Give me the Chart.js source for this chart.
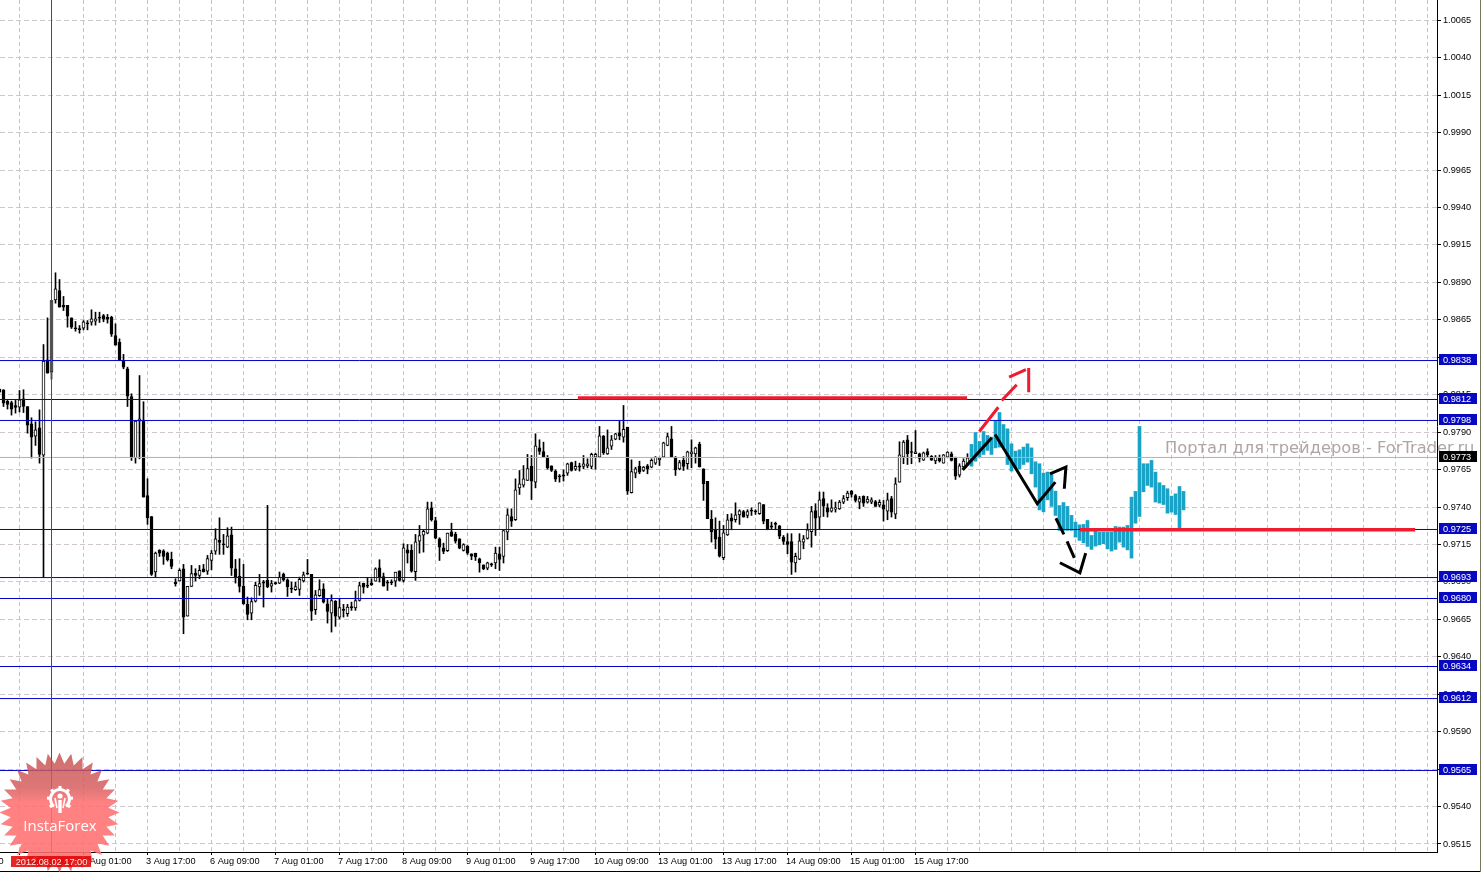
<!DOCTYPE html>
<html><head><meta charset="utf-8">
<style>html,body{margin:0;padding:0;background:#fff}canvas{display:block}</style>
<script src="https://cdn.jsdelivr.net/npm/chart.js@4"></script>
</head><body><canvas id="c" width="1481" height="873"></canvas>
<script>
const opens=[.98187,.98183,.98105,.98098,.98078,.98067,.98123,.98071,.97956,.97873,
.97929,.97747,.98383,.98301,.98783,.98846,.98746,.98746,.98663,.98597,
.98590,.98594,.98630,.98634,.98641,.98668,.98679,.98666,.98666,.98545,
.98499,.98379,.98323,.98138,.97729,.97974,.97974,.97477,.97337,.96966,
.97110,.97108,.97092,.97050,.96899,.96906,.96988,.96672,.96870,.96957,
.96943,.96988,.96972,.97044,.97106,.97177,.97155,.97132,.97215,.96988,
.96937,.96870,.96750,.96692,.96772,.96866,.96901,.96910,.96872,.96894,
.96892,.96950,.96914,.96857,.96848,.96850,.96906,.96957,.96950,.96714,
.96808,.96854,.96754,.96692,.96770,.96665,.96716,.96688,.96736,.96727,
.96776,.96890,.96876,.96894,.96905,.96994,.96936,.96896,.96899,.96905,
.96974,.96910,.97114,.97110,.96968,.97172,.97212,.97226,.97395,.97310,
.97188,.97128,.97108,.97235,.97217,.97188,.97110,.97137,.97088,.97090,
.97054,.97014,.96992,.97019,.97026,.97088,.97070,.97232,.97337,.97315,
.97528,.97546,.97577,.97671,.97566,.97795,.97771,.97729,.97675,.97640,
.97606,.97615,.97626,.97697,.97653,.97675,.97671,.97675,.97671,.97733,
.97733,.97873,.97755,.97806,.97853,.97895,.97866,.97933,.97495,.97626,
.97671,.97644,.97675,.97666,.97693,.97715,.97733,.97811,.97855,.97733,
.97655,.97711,.97689,.97755,.97755,.97818,.97655,.97571,.97317,.97248,
.97199,.97061,.97213,.97328,.97315,.97348,.97370,.97344,.97377,.97373,
.97355,.97417,.97317,.97275,.97288,.97275,.97199,.97170,.97170,.97026,
.97052,.97166,.97190,.97235,.97377,.97333,.97457,.97395,.97373,.97386,
.97388,.97433,.97462,.97506,.97477,.97433,.97471,.97433,.97433,.97437,
.97413,.97415,.97373,.97457,.97353,.97566,.97733,.97849,.97769,.97756,
.97756,.97713,.97771,.97738,.97707,.97729,.97693,.97733,.97756,.97729,
.97613,.97667,.97689];
const closes=[.98167,.98094,.98085,.98054,.98065,.98116,.98071,.97947,.97867,.97916,
.97751,.98374,.98294,.98779,.98857,.98735,.98735,.98674,.98601,.98590,
.98585,.98637,.98623,.98657,.98657,.98661,.98654,.98654,.98554,.98481,
.98379,.98334,.98140,.97729,.97974,.97989,.97466,.97328,.96950,.97092,
.97092,.97070,.97048,.97003,.96888,.96977,.96665,.96870,.96955,.96943,
.96977,.96966,.97055,.97092,.97188,.97164,.97148,.97208,.96992,.96928,
.96870,.96754,.96683,.96768,.96877,.96888,.96892,.96866,.96888,.96888,
.96932,.96914,.96866,.96852,.96868,.96917,.96948,.96952,.96705,.96814,
.96848,.96765,.96703,.96776,.96672,.96728,.96710,.96732,.96727,.96776,
.96876,.96865,.96872,.96881,.96988,.96928,.96872,.96892,.96894,.96965,
.96910,.97128,.97092,.96972,.97168,.97210,.97237,.97388,.97315,.97192,
.97132,.97103,.97226,.97206,.97172,.97126,.97150,.97092,.97072,.97066,
.97026,.96988,.97028,.97014,.97092,.97050,.97243,.97348,.97306,.97515,
.97555,.97588,.97657,.97573,.97809,.97771,.97733,.97662,.97644,.97586,
.97602,.97606,.97688,.97644,.97671,.97666,.97688,.97688,.97751,.97751,
.97875,.97762,.97795,.97849,.97889,.97875,.97918,.97506,.97637,.97655,
.97633,.97666,.97653,.97711,.97733,.97726,.97829,.97871,.97733,.97648,
.97697,.97671,.97769,.97769,.97795,.97667,.97555,.97322,.97233,.97186,
.97072,.97228,.97315,.97306,.97348,.97375,.97333,.97370,.97373,.97368,
.97428,.97306,.97253,.97266,.97284,.97206,.97170,.97150,.97032,.97070,
.97175,.97188,.97248,.97370,.97326,.97448,.97406,.97366,.97395,.97395,
.97433,.97457,.97493,.97484,.97444,.97457,.97426,.97453,.97448,.97404,
.97431,.97386,.97448,.97366,.97555,.97749,.97833,.97756,.97764,.97769,
.97724,.97762,.97749,.97713,.97733,.97707,.97749,.97767,.97711,.97606,
.97675,.97707,.97729];
const highs=[.98187,.98183,.98112,.98107,.98112,.98178,.98183,.98071,.97996,.97969,
.98049,.98485,.98663,.98779,.98964,.98919,.98806,.98746,.98663,.98639,
.98612,.98645,.98645,.98717,.98701,.98701,.98686,.98686,.98674,.98623,
.98523,.98419,.98334,.98156,.97978,.98278,.98103,.97589,.97337,.97099,
.97115,.97115,.97099,.97099,.96921,.96988,.97017,.96870,.97010,.96988,
.97010,.97017,.97077,.97110,.97255,.97328,.97217,.97262,.97266,.97050,
.97055,.97017,.96799,.96794,.96899,.96950,.96910,.97411,.96910,.96899,
.96966,.96959,.96921,.96899,.96899,.96932,.96966,.97050,.96950,.96843,
.96914,.96888,.96788,.96814,.96776,.96788,.96750,.96750,.96765,.96839,
.96899,.96892,.96928,.96921,.96994,.97048,.96959,.96910,.96914,.96965,
.96974,.97155,.97150,.97148,.97217,.97277,.97248,.97433,.97433,.97332,
.97195,.97159,.97226,.97292,.97232,.97188,.97155,.97143,.97088,.97092,
.97059,.97014,.97032,.97026,.97132,.97132,.97243,.97388,.97388,.97588,
.97644,.97677,.97751,.97744,.97889,.97849,.97833,.97744,.97675,.97648,
.97617,.97648,.97693,.97700,.97706,.97693,.97744,.97722,.97760,.97760,
.97938,.97878,.97915,.97878,.97893,.97973,.98078,.97933,.97715,.97666,
.97706,.97671,.97684,.97722,.97737,.97733,.97833,.97893,.97938,.97737,
.97711,.97737,.97773,.97849,.97800,.97833,.97655,.97571,.97377,.97328,
.97306,.97277,.97351,.97355,.97428,.97382,.97377,.97382,.97395,.97382,
.97428,.97417,.97317,.97299,.97299,.97277,.97210,.97222,.97222,.97092,
.97222,.97210,.97288,.97404,.97422,.97500,.97500,.97422,.97448,.97433,
.97444,.97477,.97506,.97511,.97484,.97471,.97475,.97471,.97462,.97444,
.97448,.97444,.97493,.97471,.97595,.97836,.97844,.97878,.97833,.97911,
.97760,.97767,.97789,.97744,.97744,.97747,.97751,.97769,.97767,.97733,
.97689,.97722,.97756];
const lows=[.98167,.98071,.98054,.98014,.98027,.98034,.98031,.97893,.97727,.97811,
.97693,.96928,.98294,.98254,.98761,.98735,.98712,.98601,.98592,.98574,
.98561,.98583,.98583,.98614,.98614,.98632,.98637,.98628,.98539,.98481,
.98379,.98323,.98071,.97711,.97693,.97722,.97466,.97284,.96943,.96932,
.97070,.97017,.97039,.96988,.96872,.96906,.96554,.96672,.96870,.96906,
.96921,.96966,.96950,.96981,.97084,.97084,.97084,.97128,.96943,.96892,
.96832,.96750,.96647,.96647,.96765,.96810,.96732,.96861,.96832,.96883,
.96888,.96906,.96803,.96828,.96843,.96810,.96899,.96950,.96643,.96683,
.96803,.96759,.96625,.96565,.96603,.96652,.96665,.96670,.96710,.96710,
.96772,.96825,.96861,.96876,.96905,.96899,.96872,.96843,.96881,.96870,
.96905,.96899,.97026,.96965,.96910,.97092,.97099,.97221,.97306,.97188,
.97043,.97088,.97103,.97203,.97159,.97121,.97106,.97083,.97048,.97043,
.96965,.96981,.96981,.97003,.96988,.96976,.97026,.97181,.97270,.97310,
.97484,.97533,.97577,.97450,.97528,.97751,.97733,.97653,.97637,.97570,
.97566,.97573,.97611,.97640,.97644,.97640,.97655,.97662,.97655,.97653,
.97729,.97751,.97751,.97784,.97849,.97849,.97833,.97484,.97493,.97595,
.97622,.97637,.97622,.97662,.97684,.97677,.97729,.97809,.97733,.97611,
.97648,.97644,.97653,.97662,.97693,.97667,.97444,.97322,.97166,.97121,
.97066,.97048,.97210,.97248,.97299,.97284,.97333,.97328,.97344,.97351,
.97351,.97288,.97248,.97253,.97248,.97188,.97150,.97088,.96950,.96966,
.97048,.97121,.97186,.97132,.97210,.97248,.97337,.97333,.97366,.97366,
.97384,.97422,.97444,.97466,.97433,.97388,.97404,.97426,.97422,.97404,
.97400,.97306,.97315,.97333,.97322,.97566,.97689,.97684,.97689,.97756,
.97700,.97711,.97733,.97711,.97689,.97700,.97693,.97733,.97707,.97584,
.97600,.97662,.97678];
const blueStart=243;
const blueHighs=[.97818,.97898,.97838,.97904,.97878,.97867,.97973,.98031,.97951,.97922,.97822,.97773,.97782,.97800,.97822,.97795,.97702,.97689,.97626,.97633,.97617,.97506,.97410,.97430,.97404,.97344,.97299,.97281,.97284,.97310,.97210,.97244,.97232,.97232,.97232,.97232,.97270,.97266,.97266,.97277,.97466,.97504,.97938,.97689,.97689,.97711,.97633,.97562,.97544,.97522,.97473,.97488,.97537,.97504];
const blueLows=[.97673,.97706,.97733,.97751,.97778,.97751,.97795,.97800,.97800,.97684,.97640,.97662,.97655,.97684,.97700,.97622,.97533,.97381,.97368,.97448,.97404,.97344,.97244,.97244,.97244,.97244,.97199,.97177,.97161,.97137,.97117,.97139,.97148,.97155,.97121,.97106,.97117,.97166,.97132,.97114,.97059,.97292,.97337,.97502,.97544,.97533,.97433,.97426,.97417,.97359,.97366,.97350,.97248,.97381];
const levelPrices=[.98378,.98118,.97978,.97250,.96929,.96789,.96335,.96121,.95641];
const levelLabels=["0.9838","0.9812","0.9798","0.9725","0.9693","0.9680","0.9634","0.9612","0.9565"];
const currentPrice=.97731, currentLabel="0.9773";
const yTickValues=[1.0065,1.004,1.0015,.999,.9965,.994,.9915,.989,.9865,.984,.9815,.979,.9765,.974,.9715,.969,.9665,.964,.9615,.959,.9565,.954,.9515];
const xGridIndex=[5,13,21,29,37,45,53,61,69,77,85,93,101,109,117,125,133,141,149,157,165,173,181,189,197,205,213,221,229,237,245,253,261,269,277,285,293,301,309,317,325,333,341,349,357];
const xLabelIndex=[-11,5,21,37,53,69,85,101,117,133,149,165,181,197,213,229];
const xLabelText=["1 Aug 17:00","2 Aug 09:00","3 Aug 01:00","3 Aug 17:00","6 Aug 09:00","7 Aug 01:00","7 Aug 17:00","8 Aug 09:00","9 Aug 01:00","9 Aug 17:00","10 Aug 09:00","13 Aug 01:00","13 Aug 17:00","14 Aug 09:00","15 Aug 01:00","15 Aug 17:00"];
const cursorIndex=13, cursorLabel="2012.08.02 17:00";
const redThickX=[144.6,241.9,null,270.1,353.9];
const redThickY=[.98128,.98128,null,.97248,.97248];
const redDashX=[244.95,249.7,null,250.55,254.3,null,252.4,256.6,null,257.3,257.3];
const redDashY=[.97904,.98066,null,.98111,.98216,null,.98267,.98318,null,.98329,.98166];
const blackX=[240.8,248.05,null,248.9,259.45,263.95,null,262.6,266.6,266.2,null,264.1,266.1,null,266.9,268.7,null,265.1,270.1,271.55];
const blackY=[.97648,.97862,null,.97884,.97422,.97566,null,.97622,.97666,.97522,null,.97325,.97217,null,.9717,.97061,null,.97028,.96961,.97092];

const FONT="'Liberation Sans'";
const XMIN=.125,XMAX=359.375,YMIN=.950965,YMAX=1.007855;
const idx=opens.map((_,i)=>i);
const pts=(xs,ys)=>xs.map((x,i)=>({x:x===null?NaN:x,y:ys[i]}));
const base={grouped:false,borderSkipped:false};
const noPt={pointRadius:0,pointHoverRadius:0,tension:0,fill:false,spanGaps:false,borderCapStyle:'butt'};
const datasets=[
 {...base,type:'bar',label:'wick',order:9,barThickness:1,borderWidth:0,backgroundColor:'#000',
  data:idx.map(i=>({x:i,y:[lows[i],highs[i]]}))},
 {...base,type:'bar',label:'body',order:8,barThickness:3,borderWidth:1,borderColor:'#000',minBarLength:1,
  backgroundColor:idx.map(i=>closes[i]>opens[i]?'#fff':'#000'),
  data:idx.map(i=>({x:i,y:[opens[i],closes[i]]}))},
 {...base,type:'bar',label:'forecast',order:7,barThickness:3,borderWidth:0,backgroundColor:'#19a3c6',
  data:blueHighs.map((h,i)=>({x:blueStart+i,y:[blueLows[i],h]}))},
 {...noPt,type:'line',label:'current',order:6,borderWidth:1,borderColor:'#b4b0b0',
  data:[{x:XMIN,y:currentPrice},{x:XMAX,y:currentPrice}]},
 ...levelPrices.map(p=>({...noPt,type:'line',label:'level',order:5,borderWidth:1,borderColor:'#0000c8',
  data:[{x:XMIN,y:p},{x:XMAX,y:p}]})),
 {...noPt,type:'line',label:'cursor',order:4,borderWidth:1,borderColor:'#e01018',
  data:[{x:cursorIndex,y:YMIN},{x:cursorIndex,y:YMAX}]},
 {...noPt,type:'line',label:'redThick',order:3,borderWidth:3.5,borderColor:'#ee1c2e',data:pts(redThickX,redThickY)},
 {...noPt,type:'line',label:'redDash',order:2,borderWidth:3,borderColor:'#ee1c2e',data:pts(redDashX,redDashY)},
 {...noPt,type:'line',label:'black',order:1,borderWidth:3,borderColor:'#000',data:pts(blackX,blackY)}
];
const overlay={id:'overlay',afterDraw(chart){
 const c=chart.ctx,ys=chart.scales.y,xs=chart.scales.x;
 c.save();
 c.fillStyle='#000';c.fillRect(0,871,1481,1);
 c.fillStyle='#77775a';c.fillRect(1480,0,1,872);
 // watermark
 c.font="16.3px 'DejaVu Sans'";c.fillStyle='#aea5a5';c.textAlign='left';c.textBaseline='alphabetic';
 c.fillText("Портал для трейдеров - ForTrader.ru",1165,452.5);
 // price boxes
 c.font="9.2px "+FONT;c.textBaseline='middle';
 const box=(p,t,col)=>{const y=Math.round(ys.getPixelForValue(p)-.5);
  c.fillStyle=col;c.fillRect(1439,y-6,38,11);c.fillStyle='#fff';c.fillText(t,1443,y);};
 levelPrices.forEach((p,i)=>box(p,levelLabels[i],'#0808c0'));
 box(currentPrice,currentLabel,'#000');
 // InstaForex seal
 const cx=59.5,cy=812.5,R=60,r=49,N=32;
 const g=c.createLinearGradient(0,752,0,872);
 g.addColorStop(0,'rgba(195,80,80,.82)');g.addColorStop(.3,'rgba(215,95,95,.85)');
 g.addColorStop(.42,'rgba(255,112,112,.88)');g.addColorStop(.85,'rgba(255,112,112,.88)');g.addColorStop(1,'rgba(205,85,85,.85)');
 c.beginPath();
 for(let k=0;k<N*2;k++){const a=-Math.PI/2+k*Math.PI/N,q=k%2?r:R;const px=cx+q*Math.cos(a),py=cy+q*Math.sin(a);k?c.lineTo(px,py):c.moveTo(px,py);}
 c.closePath();c.fillStyle=g;c.fill();
 c.strokeStyle='#fff';c.fillStyle='#fff';
 const gx=60,gy=799;
 c.lineWidth=3;c.beginPath();c.arc(gx,gy,9.5,Math.PI*.72,Math.PI*.28+2*Math.PI);c.stroke();
 c.lineWidth=3.2;
 for(let k=-3;k<=3;k++){const a=-Math.PI/2+k*Math.PI/4.2;c.beginPath();c.moveTo(gx+9.5*Math.cos(a),gy+9.5*Math.sin(a));c.lineTo(gx+13*Math.cos(a),gy+13*Math.sin(a));c.stroke();}
 c.beginPath();c.arc(gx,gy-3,2.6,0,7);c.fill();
 c.lineWidth=3.4;c.beginPath();c.moveTo(gx,gy+1);c.lineTo(gx,gy+14);c.stroke();
 c.lineWidth=1.6;c.beginPath();c.moveTo(gx-5,gy-1);c.lineTo(gx-3,gy+9);c.moveTo(gx+5,gy-1);c.lineTo(gx+3,gy+9);c.stroke();
 c.font="15px 'Open Sans'";c.textAlign='center';c.textBaseline='alphabetic';c.fillText("InstaForex",60,830.5);
 // cursor date box over the seal
 c.globalAlpha=.85;c.fillStyle='#e00000';c.fillRect(11,856,80,11);
 c.globalAlpha=.9;c.font="9.2px "+FONT;
 c.fillStyle='#fff';c.textAlign='center';c.textBaseline='middle';c.fillText(cursorLabel,xs.getPixelForValue(cursorIndex),862);
 c.restore();
}};
new Chart(document.getElementById('c'),{
 type:'bar',
 data:{datasets},
 plugins:[overlay],
 options:{
  responsive:false,animation:false,devicePixelRatio:1,
  layout:{padding:0},
  plugins:{legend:{display:false},tooltip:{enabled:false},title:{display:false}},
  events:[],
  scales:{
   x:{type:'linear',min:XMIN,max:XMAX,offset:false,position:'bottom',
    afterBuildTicks(s){const set=[...new Set([...xLabelIndex,...xGridIndex])].sort((a,b)=>a-b);s.ticks=set.map(v=>({value:v}));},
    afterFit(s){s.height=21;s.paddingLeft=0;s.paddingRight=0;},
    grid:{offset:false,color:'#c2c8c0',lineWidth:1,drawTicks:true,tickLength:3,
      tickColor:ctx=>xLabelIndex.includes(ctx.tick&&ctx.tick.value)?'#000':'rgba(0,0,0,0)'},
    border:{display:true,color:'#000',width:1,dash:[4,3]},
    ticks:{autoSkip:false,maxRotation:0,minRotation:0,align:'start',padding:1,labelOffset:-1.5,color:'#000',
      font:{family:FONT,size:9.2},
      callback:v=>{const k=xLabelIndex.indexOf(v);return k<0?'':xLabelText[k];}}
   },
   y:{type:'linear',min:YMIN,max:YMAX,position:'right',
    afterBuildTicks(s){s.ticks=yTickValues.map(v=>({value:v}));},
    afterFit(s){s.width=44;s.paddingTop=0;s.paddingBottom=0;},
    grid:{color:'#d0c6d0',lineWidth:1,drawTicks:true,tickLength:4,tickColor:'#000'},
    border:{display:true,color:'#000',width:1,dash:[5,3]},
    ticks:{autoSkip:false,padding:2,color:'#000',crossAlign:'near',font:{family:FONT,size:9.2},
      callback:v=>v.toFixed(4)}
   }
  }
 }
});
</script></body></html>
